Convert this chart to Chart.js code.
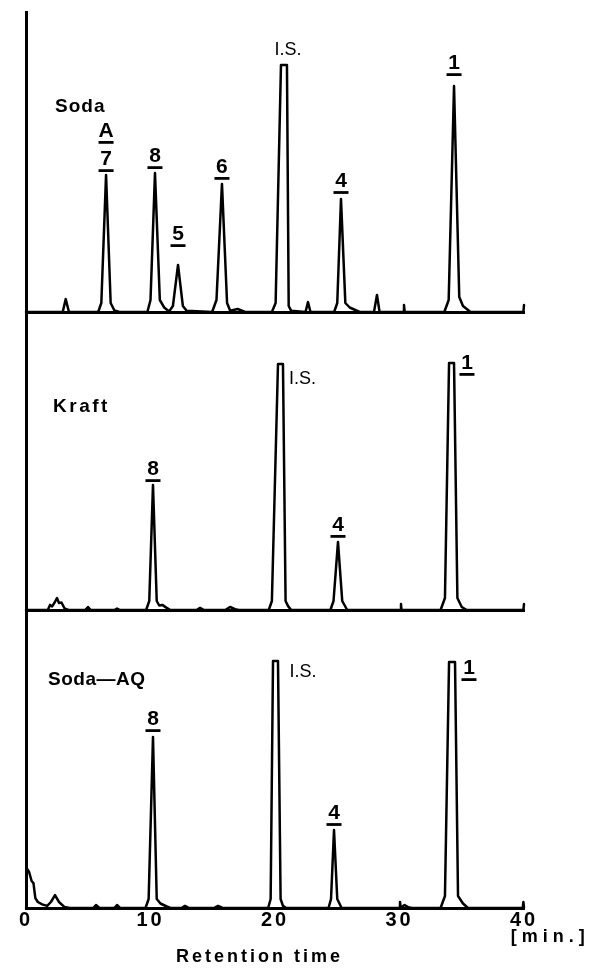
<!DOCTYPE html>
<html><head><meta charset="utf-8">
<script src="https://cdn.jsdelivr.net/npm/chart.js@4.4.1/dist/chart.umd.min.js"></script>
<style>
html,body{margin:0;padding:0;background:#fff;}
body{width:594px;height:969px;position:relative;overflow:hidden;}
.panel{position:absolute;left:0;width:594px;}
canvas{display:block;}
</style></head><body>
<div class="panel" style="top:0;height:320px"><canvas id="c1" width="594" height="320"></canvas></div>
<div class="panel" style="top:300px;height:320px"><canvas id="c2" width="594" height="320"></canvas></div>
<div class="panel" style="top:598px;height:371px"><canvas id="c3" width="594" height="371"></canvas></div>
<script>
// ---------- data (retention time in min, detector signal in % of panel height) ----------
const xTicks = [0, 10, 20, 30, 40];

const sodaTime   = [0, 2.95, 3.19, 3.45, 5.8, 6.05, 6.43, 6.8, 7.1, 7.5, 9.75, 10.0, 10.36, 10.75, 11.1, 11.5, 11.8, 12.21, 12.6, 12.9, 14.95, 15.3, 15.74, 16.15, 16.4, 17.0, 17.6, 19.75, 20.05, 20.48, 20.96, 21.1, 21.3, 22.45, 22.65, 22.85, 24.75, 25.0, 25.3, 25.65, 26.0, 26.8, 27.95, 28.19, 28.4, 30.3, 30.36, 30.42, 33.6, 33.95, 34.38, 34.8, 34.9, 35.1, 35.7, 39.95, 40];
const sodaSignal = [0, 0, 4.3, 0, 0, 3, 45.7, 3, 0.5, 0, 0, 4, 46.3, 4, 1.5, 0.2, 2, 15.7, 2, 0.4, 0, 4, 42.7, 3, 0.4, 1, 0, 0, 3, 82.3, 82.3, 2, 0.4, 0, 3.3, 0, 0, 3, 37.7, 3, 1.5, 0, 0, 5.7, 0, 0, 2.3, 0, 0, 4, 75.3, 5, 4, 2, 0, 0, 2.3];

const kraftTime   = [0, 1.75, 1.93, 2.1, 2.3, 2.49, 2.65, 2.85, 3.1, 3.4, 4.75, 4.98, 5.2, 7.1, 7.31, 7.55, 9.65, 9.9, 10.2, 10.5, 10.7, 10.95, 11.3, 11.6, 13.7, 13.98, 14.3, 16.0, 16.39, 16.8, 17.1, 19.5, 19.75, 20.24, 20.64, 20.85, 21.05, 21.3, 24.45, 24.7, 25.06, 25.4, 25.8, 30.08, 30.12, 30.16, 33.3, 33.65, 33.98, 34.38, 34.65, 35.0, 35.4, 39.95, 40];
const kraftSignal = [0, 0, 1.7, 1.2, 2.5, 4, 2.3, 2.5, 0.5, 0, 0, 1, 0, 0, 0.5, 0, 0, 3, 41.7, 3, 1.5, 1.7, 0.7, 0, 0, 0.7, 0, 0, 1, 0.3, 0, 0, 3, 82, 82, 3, 1.3, 0, 0, 3, 22.7, 3, 0, 0, 2, 0, 0, 4, 82.3, 82.3, 4, 1, 0, 0, 2];

const aqTime   = [0, 0.05, 0.25, 0.45, 0.6, 0.75, 0.95, 1.3, 1.7, 2.0, 2.33, 2.65, 3.1, 3.5, 5.4, 5.62, 5.9, 7.1, 7.31, 7.55, 9.6, 9.85, 10.2, 10.5, 10.8, 11.3, 11.6, 12.5, 12.77, 13.1, 15.1, 15.42, 15.8, 19.45, 19.65, 19.84, 20.24, 20.45, 20.64, 20.9, 24.3, 24.5, 24.74, 25.0, 25.35, 30.0, 30.04, 30.1, 30.4, 30.7, 31.0, 33.3, 33.65, 33.98, 34.46, 34.7, 35.1, 35.5, 39.9, 39.95, 40];
const aqSignal = [0, 13.3, 12, 9, 8.3, 3.3, 2, 1.2, 0.7, 2, 4.3, 2, 0.3, 0, 0, 1, 0, 0, 1, 0, 0, 3, 57, 3, 1.5, 0.5, 0, 0, 0.7, 0, 0, 0.7, 0, 0, 3, 82.3, 82.3, 3, 0.7, 0, 0, 3, 26, 3, 0, 0, 2, 0, 1, 0.3, 0, 0, 4, 82, 82, 4, 1.5, 0, 0, 2, 0];

// peak labels: text, retention time, level
const sodaLabels      = ['A', '7', '8', '5', '6', 'I.S.', '4', '1'];
const sodaLabelTime   = [6.43, 6.43, 10.36, 12.21, 15.74, 21.04, 25.3, 34.38];
const sodaLabelLevel  = [60.7, 51.3, 52.3, 26.3, 48.7, 87.3, 44, 83.3];

const kraftLabels     = ['8', 'I.S.', '4', '1'];
const kraftLabelTime  = [10.2, 22.2, 25.06, 35.42];
const kraftLabelLevel = [47.3, 77, 28.7, 82.7];

const aqLabels        = ['8', 'I.S.', '4', '1'];
const aqLabelTime     = [10.2, 22.25, 24.74, 35.58];
const aqLabelLevel    = [63.3, 78.7, 32, 80.3];

const FONT = '"Liberation Sans", Arial, Helvetica, sans-serif';

const textPlugin = {
  id: 'panelText',
  afterDatasetsDraw(chart, args, o) {
    const {ctx, scales: {x, y}} = chart;
    ctx.save();
    ctx.fillStyle = '#000';
    ctx.strokeStyle = '#000';
    ctx.textBaseline = 'middle';
    // panel name
    ctx.font = 'bold 19px ' + FONT;
    ctx.letterSpacing = o.nameSpacing;
    ctx.textAlign = 'left';
    ctx.fillText(o.name, x.getPixelForValue(o.nameTime), y.getPixelForValue(o.nameLevel));
    // peak labels
    o.texts.forEach((t, i) => {
      const px = x.getPixelForValue(o.times[i]);
      const py = y.getPixelForValue(o.levels[i]);
      ctx.textAlign = 'center';
      ctx.letterSpacing = '0px';
      if (t === 'I.S.') {
        ctx.font = '18px ' + FONT;
        ctx.fillText(t, px, py);
      } else {
        ctx.font = 'bold 21px ' + FONT;
        ctx.fillText(t, px, py + 1);
        ctx.lineWidth = 2.8;
        ctx.beginPath();
        ctx.moveTo(px - 7.5, py + 12.5);
        ctx.lineTo(px + 7.5, py + 12.5);
        ctx.stroke();
      }
    });
    // axis texts (bottom panel only)
    if (o.axisText) {
      const b = chart.chartArea.bottom;
      ctx.font = 'bold 18px ' + FONT;
      ctx.letterSpacing = '3px';
      ctx.textAlign = 'center';
      ctx.fillText('Retention time', x.getPixelForValue(18.75), b + 49);
      ctx.letterSpacing = '5px';
      ctx.fillText('[min.]', x.getPixelForValue(42.1), b + 29);
    }
    ctx.restore();
  }
};

const spacingPlugin = {
  id: 'tickSpacing',
  beforeDraw(chart) { chart.ctx.letterSpacing = '3px'; }
};

function makeChart(id, time, signal, name, nameTime, nameLevel, nameSpacing, texts, times, levels, pad, bottomAxis) {
  const pts = time.map((t, i) => ({x: t, y: signal[i]}));
  return new Chart(document.getElementById(id), {
    type: 'line',
    data: {datasets: [{
      data: pts,
      borderColor: '#000',
      borderWidth: 2.5,
      pointRadius: 0,
      tension: 0,
      fill: false,
      clip: false,
      borderJoinStyle: 'round',
      borderCapStyle: 'round'
    }]},
    options: {
      responsive: false,
      animation: false,
      devicePixelRatio: 1,
      layout: {padding: {left: 26, right: 70, top: pad[0], bottom: pad[1]}},
      plugins: {
        legend: {display: false},
        tooltip: {enabled: false},
        panelText: {name, nameTime, nameLevel, nameSpacing, texts, times, levels, axisText: bottomAxis}
      },
      scales: {
        x: {
          type: 'linear', min: 0, max: 40,
          grid: {display: false, drawTicks: false},
          border: {display: true, color: '#000', width: 3},
          afterBuildTicks: (s) => { s.ticks = xTicks.map(v => ({value: v})); },
          ticks: {
            display: bottomAxis,
            padding: 0,
            color: '#000',
            font: {family: FONT, size: 20, weight: 'bold'},
            maxRotation: 0
          },
          afterFit: (s) => { s.height = bottomAxis ? 61 : 0; }
        },
        y: {
          min: 0, max: 100,
          grid: {display: false, drawTicks: false},
          border: {display: true, color: '#000', width: 3},
          ticks: {display: false},
          afterFit: (s) => { s.width = 0; }
        }
      }
    },
    plugins: bottomAxis ? [textPlugin, spacingPlugin] : [textPlugin]
  });
}

makeChart('c1', sodaTime, sodaSignal, 'Soda', 2.33, 68.3, '1px', sodaLabels, sodaLabelTime, sodaLabelLevel, [12, 8], false);
makeChart('c2', kraftTime, kraftSignal, 'Kraft', 2.17, 67.7, '2.5px', kraftLabels, kraftLabelTime, kraftLabelLevel, [10, 10], false);
makeChart('c3', aqTime, aqSignal, 'Soda—AQ', 1.77, 76, '0.5px', aqLabels, aqLabelTime, aqLabelLevel, [10, 0], true);
</script>
</body></html>
